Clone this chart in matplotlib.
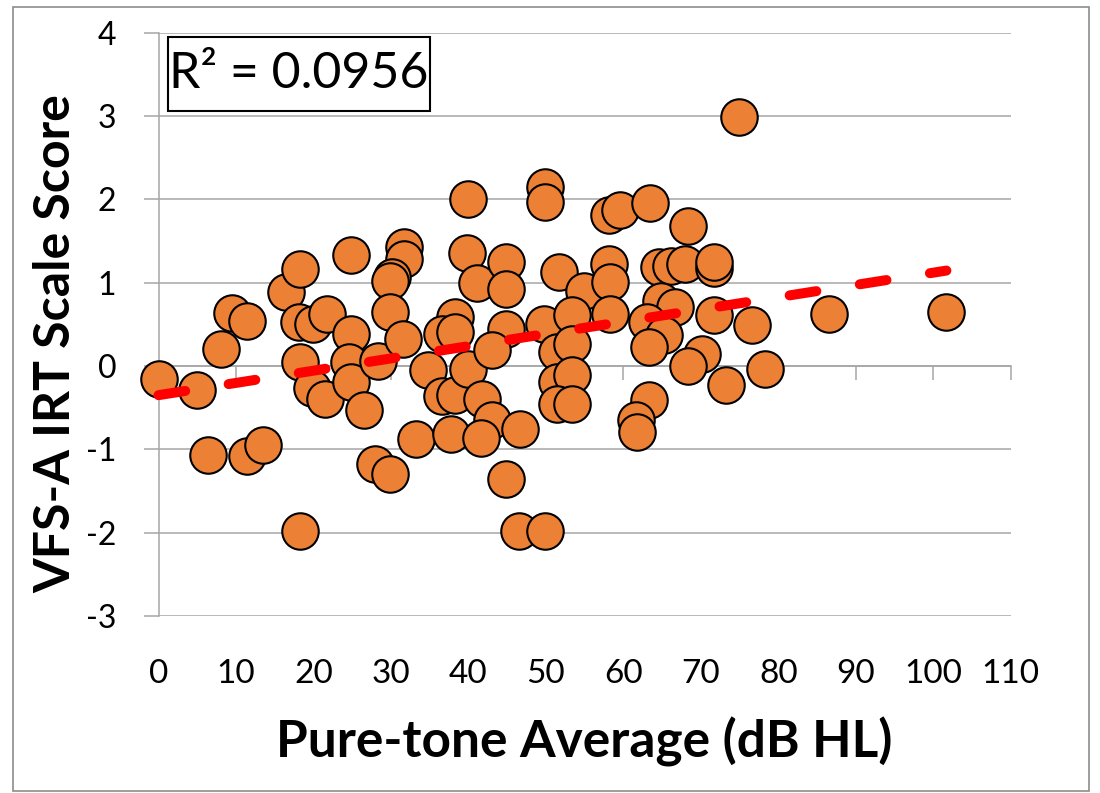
import matplotlib
matplotlib.use('Agg')
import matplotlib.pyplot as plt
from matplotlib.patches import Rectangle
import numpy as np

# ---------------- data ----------------
pta_db = [0, 5, 6.4, 11.4, 13.5, 8.1, 9.5, 11.4, 16.5, 18.2, 24.8, 18.2, 18.1, 19.9,
          21.8, 18.2, 19.8, 21.5, 24.9, 24.6, 24.9, 26.5, 28.3, 31.7, 31.7, 30.1, 29.9,
          29.9, 31.6, 28.0, 29.9, 33.2, 34.8, 36.6, 39.9, 49.9, 49.9, 39.8, 41.1, 44.9,
          44.9, 51.7, 54.9, 58.2, 58.3, 58.3, 38.3, 36.6, 38.3, 38.3, 39.9, 41.8, 43.1,
          37.7, 41.6, 46.7, 44.8, 46.5, 49.9, 44.9, 43.1, 49.7, 53.4, 51.4, 53.4, 51.4,
          53.4, 51.4, 53.4, 74.9, 58.1, 59.6, 63.4, 68.3, 64.6, 66.2, 68.0, 71.7, 71.7,
          64.8, 66.7, 63.1, 65.2, 63.3, 71.7, 76.6, 70.2, 68.3, 73.3, 78.3, 63.3, 61.7,
          61.8, 86.6, 101.7]
vfs_score = [-0.15, -0.29, -1.07, -1.08, -0.95, 0.21, 0.64, 0.54, 0.89, 1.17, 1.33, -1.98,
             0.53, 0.50, 0.62, 0.05, -0.26, -0.40, 0.39, 0.05, -0.19, -0.53, 0.06, 1.43,
             1.29, 1.07, 1.02, 0.65, 0.33, -1.17, -1.29, -0.88, -0.05, -0.36, 2.0, 2.15,
             1.97, 1.36, 1.0, 1.25, 0.93, 1.13, 0.9, 1.23, 1.01, 0.63, 0.59, 0.39, 0.41,
             -0.35, -0.03, -0.40, -0.65, -0.82, -0.86, -0.75, -1.35, -1.98, -1.98, 0.44,
             0.19, 0.51, 0.61, 0.17, 0.26, -0.19, -0.11, -0.45, -0.45, 2.99, 1.81, 1.87,
             1.96, 1.68, 1.19, 1.20, 1.23, 1.18, 1.25, 0.78, 0.71, 0.53, 0.37, 0.23, 0.61,
             0.49, 0.14, 0.0, -0.23, -0.03, -0.41, -0.65, -0.79, 0.62, 0.65]
trend_intercept = -0.35
trend_slope = 0.0147
r2_label = "R\u00b2 = 0.0956"
x_ticks = list(range(0, 111, 10))
y_ticks = list(range(-3, 5))
x_title = "Pure-tone Average (dB HL)"
y_title = "VFS-A IRT Scale Score"

# ---------------- style ----------------
plt.rcParams['font.family'] = ['Lato', 'DejaVu Sans']
plt.rcParams['axes.unicode_minus'] = False

grid_color = '#A6A6A6'
marker_color = '#EC8034'

fig = plt.figure(figsize=(11, 7.93), dpi=100)
fig.patch.set_facecolor('white')
ax = fig.add_axes([0.1441, 0.2232, 0.7747, 0.7356])
ax.set_xlim(0, 110)
ax.set_ylim(-3, 4)

for s in ['top', 'right']:
    ax.spines[s].set_visible(False)
ax.spines['left'].set_color(grid_color)
ax.spines['left'].set_linewidth(1.1)
ax.spines['bottom'].set_position(('data', 0))
ax.spines['bottom'].set_color(grid_color)
ax.spines['bottom'].set_linewidth(1.1)

ax.set_yticks(y_ticks)
ax.set_yticklabels([str(v) for v in y_ticks])
ax.yaxis.grid(True, color=grid_color, linewidth=1.1)
ax.set_axisbelow(True)
ax.tick_params(axis='y', direction='out', length=11, width=1.1, color=grid_color,
               pad=19.5, labelsize=23, labelcolor='black')
ax.set_xticks(x_ticks)
ax.tick_params(axis='x', direction='out', length=10, width=1.1, color=grid_color,
               labelbottom=False)

sec = ax.secondary_xaxis('bottom')
sec.set_xticks(x_ticks)
sec.set_xticklabels([str(v) for v in x_ticks])
sec.tick_params(length=0, pad=31, labelsize=24, labelcolor='black')
sec.spines['bottom'].set_visible(False)

ax.set_xlabel(x_title, fontsize=37, fontweight='bold')
ax.xaxis.set_label_coords(0.5, -0.2434)
ax.xaxis.label.set_va('baseline')
ax.set_ylabel(y_title, fontsize=36, fontweight='bold')
ax.yaxis.set_label_coords(-0.1039, 0.467)
ax.yaxis.label.set_va('baseline')

# ---------------- marks ----------------
ax.scatter(pta_db, vfs_score, s=690, c=marker_color, edgecolors='black',
           linewidths=1.5, zorder=3, clip_on=False)

xs = np.array([min(pta_db), max(pta_db)])
ys = trend_intercept + trend_slope * xs
line, = ax.plot(xs, ys, color='#FF0000', linewidth=7.2, zorder=4, clip_on=False)
line.set_dashes([2.7, 4.4])
line.set_dash_capstyle('round')

ax.add_patch(Rectangle((0.0108, 0.8663), 0.3078, 0.1269, transform=ax.transAxes,
                       facecolor='white', edgecolor='black', linewidth=1.5,
                       zorder=5, clip_on=False))
ax.text(0.1646, 0.9297, r2_label, transform=ax.transAxes, ha='center', va='center',
        fontsize=36, zorder=6)

fig.add_artist(Rectangle((13 / 1100, 1 - 791 / 793), (1089 - 13) / 1100, (791 - 7) / 793,
                         transform=fig.transFigure, fill=False, edgecolor='#8c8c8c',
                         linewidth=1.2))

fig.savefig('out.png', dpi=100, facecolor='white')
